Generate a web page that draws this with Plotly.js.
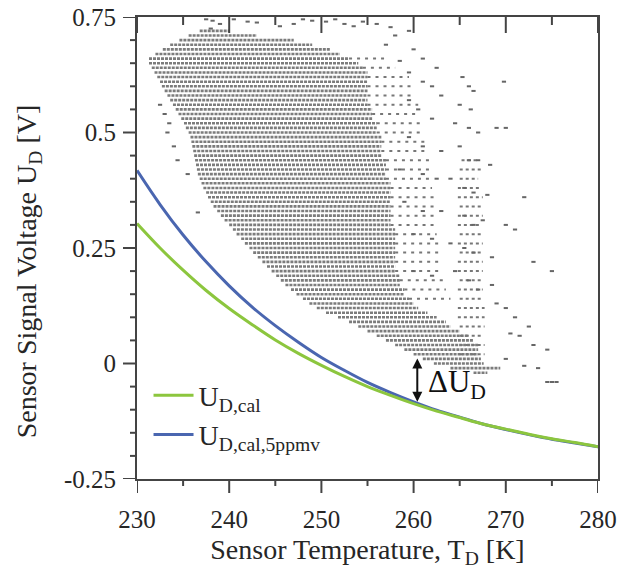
<!DOCTYPE html>
<html><head><meta charset="utf-8">
<script src="https://cdn.plot.ly/plotly-3.0.1.min.js"></script>
<style>body{margin:0;background:#fff}#chart{width:619px;height:569px}</style>
</head><body><div id="chart"></div>
<script>
// calibration curves
const curveT = [230,232.5,235,237.5,240,242.5,245,247.5,250,252.5,255,257.5,260,262.5,265,267.5,270,272.5,275,277.5,280];
const udCal5 = [0.418,0.344,0.278,0.220,0.168,0.122,0.082,0.046,0.013,-0.015,-0.041,-0.063,-0.083,-0.101,-0.116,-0.131,-0.143,-0.154,-0.164,-0.172,-0.180];
const udCal  = [0.303,0.250,0.202,0.158,0.119,0.084,0.051,0.022,-0.004,-0.028,-0.050,-0.069,-0.087,-0.103,-0.117,-0.131,-0.142,-0.153,-0.163,-0.171,-0.180];

// dense measurement rows (quantised voltage levels): level, lowest T, highest T
const rowY = [0.72,0.71,0.70,0.69,0.68,0.67,0.66,0.65,0.64,0.63,0.62,0.61,0.60,0.59,0.58,0.57,0.56,0.55,0.54,0.53,0.52,0.51,0.50,0.49,0.48,0.47,0.46,0.45,0.44,0.43,0.42,0.41,0.40,0.39,0.38,0.37,0.36,0.35,0.34,0.33,0.32,0.31,0.30,0.29,0.28,0.27,0.26,0.25,0.24,0.23,0.22,0.21,0.20,0.19,0.18,0.17,0.16,0.15,0.14,0.13,0.12,0.11,0.10,0.09,0.08,0.07,0.06,0.05,0.04,0.03,0.02,0.01,0.00,-0.01,-0.02];
const rowT0 = [236.8,235.6,234.6,233.6,232.8,232.0,231.3,231.3,231.6,231.9,232.2,232.5,232.7,233.0,233.3,233.6,233.9,234.2,234.5,234.8,235.1,235.3,235.6,235.8,235.9,236.0,236.1,236.2,236.3,236.4,236.5,236.6,236.8,237.0,237.2,237.5,237.7,238.0,238.3,238.7,239.1,239.5,240.0,240.4,240.8,241.3,241.7,242.2,242.6,243.1,243.6,244.1,244.6,245.1,245.6,246.1,246.7,247.3,248.0,248.7,249.5,250.5,251.8,253.0,254.0,255.0,256.0,257.0,258.0,259.0,260.0,261.0,262.2,264.0,266.5];
const rowT1 = [240,243,247,249,251,252,253,254,254.5,255,255,255,255,255,255,255,255,255.5,255.5,255.5,256,256,256,256.5,256.5,256.5,256.5,256.5,257,257,257,257,257,257.5,257.5,257.5,257.5,257.5,257.5,257.5,257.5,257.5,257.5,258,258,258,258,258,258,258,258,258,258,258.5,258.5,258.5,259,259,259.5,260,260.5,261.5,262.5,263.5,264,265,266,266.5,267,267,267,267.3,267.6,269.4,268];

// lighter band right of the dense core
const bandY  = [0.66,0.64,0.62,0.60,0.58,0.56,0.54,0.52,0.50,0.48,0.46,0.44,0.42,0.40,0.38,0.36,0.34,0.32,0.30,0.28,0.26,0.24,0.22,0.20,0.18,0.16,0.14];
const bandT0 = [253,254.5,255,255,255,255,255.5,256,256,256.5,256.5,257,257,257,257.5,257.5,257.5,257.5,257.5,258,258,258,258,258,258.5,259,259.5];
const bandT1 = [257,258,259.5,260,260,260.5,260.5,261,261,261.5,261.5,262,262,262,262,262.5,262.5,262.5,262.5,262.5,263,263,263,263,263.5,263.5,264];

// isolated streak near 266 K
const colY  = [0.44,0.42,0.40,0.38,0.36,0.34,0.32,0.30,0.28,0.26,0.24,0.22,0.20,0.18,0.16,0.14,0.12,0.10,0.08,0.06,0.04,0.02];
const colT0 = [265.2,265,265,264.8,264.8,265,264.8,264.8,265,264.8,265,264.8,264.8,265,264.8,265,264.8,264.8,265,265,265,265];
const colT1 = [267,267.3,267,267.3,267.5,267.3,267.5,267.3,267.5,267.5,267.3,267.5,267.5,267.3,267.5,267.5,267.7,267.7,267.7,267.5,267.7,267.7];

// scattered single readings
const sparseT = [237.5,238.2,239,238,240.5,242,243,245.5,247,248,249,250.5,251.5,252.5,253.5,254.5,256,257.5,258,259.5,257,260,261,262.5,258.5,259.5,261,262,265.3,266,266.5,269.8,263,265,266.2,259.5,260.5,262,264.5,266,267,269,270,259.5,261,263,265,266,267,268.3,258.5,261,262.5,264,265.5,266.5,268,272,259,261,263,265.5,266.5,267.5,270,271,260,262,264,265.5,266.5,268.5,273,275,260,262,264.5,266,267,268.5,269,270,271,272.5,271.5,273,274.5,270,272,273.5,270.5,274.5,275,275.5,233.3,234.4,234,233.5,235.5,236.6,232.5,233];
const sparseU = [0.745,0.742,0.735,0.725,0.745,0.74,0.738,0.73,0.735,0.745,0.742,0.74,0.745,0.735,0.73,0.74,0.735,0.728,0.71,0.72,0.69,0.68,0.66,0.64,0.655,0.63,0.61,0.60,0.62,0.60,0.59,0.61,0.58,0.56,0.55,0.57,0.55,0.53,0.52,0.51,0.50,0.51,0.51,0.49,0.47,0.46,0.47,0.44,0.44,0.43,0.42,0.41,0.40,0.40,0.38,0.37,0.365,0.36,0.35,0.33,0.33,0.32,0.30,0.31,0.30,0.29,0.28,0.27,0.26,0.25,0.24,0.23,0.22,0.20,0.20,0.19,0.20,0.18,0.16,0.17,0.13,0.12,0.10,0.08,0.06,0.04,0.03,0.01,-0.005,-0.01,0.065,-0.04,-0.04,-0.04,0.50,0.44,0.47,0.52,0.41,0.327,0.56,0.54];

// axis ticks
const xMajor = [230, 240, 250, 260, 270, 280];
const xMinor = [235, 245, 255, 265, 275];
const yTickVals = [-0.25, 0, 0.25, 0.5, 0.75];
const yTickText = ['-0.25', '0', '0.25', '0.5', '0.75'];
const yMinor = [-0.2, -0.15, -0.1, -0.05, 0.05, 0.1, 0.15, 0.2, 0.3, 0.35, 0.4, 0.45, 0.55, 0.6, 0.65, 0.7];

function segs(ys, t0, t1) {
  const x = [], y = [];
  for (let i = 0; i < ys.length; i++) { x.push(t0[i], t1[i], null); y.push(ys[i], ys[i], null); }
  return {x, y};
}
const dense = segs(rowY, rowT0, rowT1);
const band = segs(bandY, bandT0, bandT1);
const col = segs(colY, colT0, colT1);

const serif = 'Liberation Serif, Times New Roman, serif';
const axCol = '#444';
const txtCol = '#262626';
const noTick = 'rgba(0,0,0,0)';

// plot area size in px (for converting tick lengths to paper units)
const W = 619, H = 569, M = {l: 137, r: 21, t: 17, b: 90};
const pw = W - M.l - M.r, ph = H - M.t - M.b;
const tickLine = {color: axCol, width: 2};
const shapes = [];
xMajor.forEach(v => {
  shapes.push({type: 'line', xref: 'x', yref: 'paper', x0: v, x1: v, y0: 0, y1: -14 / ph, line: tickLine});
  shapes.push({type: 'line', xref: 'x', yref: 'paper', x0: v, x1: v, y0: 1, y1: 1 - 16 / ph, line: tickLine});
});
xMinor.forEach(v => {
  shapes.push({type: 'line', xref: 'x', yref: 'paper', x0: v, x1: v, y0: 0, y1: -7 / ph, line: tickLine});
  shapes.push({type: 'line', xref: 'x', yref: 'paper', x0: v, x1: v, y0: 1, y1: 1 - 8 / ph, line: tickLine});
});
yTickVals.forEach(v => shapes.push({type: 'line', xref: 'paper', yref: 'y', x0: 0, x1: -14 / pw, y0: v, y1: v, line: tickLine}));
yMinor.forEach(v => shapes.push({type: 'line', xref: 'paper', yref: 'y', x0: 0, x1: -7 / pw, y0: v, y1: v, line: tickLine}));

const traces = [
  {x: dense.x, y: dense.y, mode: 'lines', line: {color: '#7c7c7c', width: 2.6, dash: '3px,1px'}, showlegend: false, hoverinfo: 'skip'},
  {x: band.x, y: band.y, mode: 'lines', line: {color: '#777', width: 2, dash: '3px,5px'}, showlegend: false, hoverinfo: 'skip'},
  {x: col.x, y: col.y, mode: 'lines', line: {color: '#777', width: 2, dash: '3px,3px'}, showlegend: false, hoverinfo: 'skip'},
  {x: sparseT, y: sparseU, mode: 'markers', marker: {symbol: 'line-ew', size: 3, line: {color: '#666', width: 2}}, showlegend: false, hoverinfo: 'skip'},
  {x: curveT, y: udCal5, mode: 'lines', name: 'U<sub>D,cal,5ppmv</sub>', line: {color: '#4a66b0', width: 3, shape: 'spline'}},
  {x: curveT, y: udCal, mode: 'lines', name: 'U<sub>D,cal</sub>', line: {color: '#8cc63e', width: 3, shape: 'spline'}}
];

const layout = {
  width: W, height: H,
  margin: M,
  paper_bgcolor: '#fff', plot_bgcolor: '#fff',
  font: {family: serif, color: txtCol, size: 25},
  showlegend: true,
  legend: {x: 0.025, y: 0.235, xanchor: 'left', yanchor: 'top', traceorder: 'reversed', bgcolor: 'rgba(0,0,0,0)', font: {family: serif, size: 28, color: txtCol}, itemwidth: 40, tracegroupgap: 0},
  xaxis: {
    range: [230, 280], showgrid: false, zeroline: false, fixedrange: true,
    tickmode: 'array', tickvals: xMajor,
    showline: true, linecolor: axCol, linewidth: 2, mirror: true,
    ticks: 'outside', ticklen: 14, tickwidth: 2, tickcolor: noTick,
    tickfont: {family: serif, size: 25, color: txtCol}, ticklabelstandoff: 3,
    title: {text: 'Sensor Temperature, T<sub>D</sub> [K]', font: {family: serif, size: 28, color: txtCol}, standoff: 8}
  },
  yaxis: {
    range: [-0.25, 0.75], showgrid: false, zeroline: false, fixedrange: true,
    tickmode: 'array', tickvals: yTickVals, ticktext: yTickText,
    showline: true, linecolor: axCol, linewidth: 2, mirror: true,
    ticks: 'outside', ticklen: 14, tickwidth: 2, tickcolor: noTick,
    tickfont: {family: serif, size: 25, color: txtCol}
  },
  shapes: shapes,
  annotations: [
    {x: 260.4, y: -0.083, ax: 260.4, ay: 0.014, xref: 'x', yref: 'y', axref: 'x', ayref: 'y', text: '', showarrow: true, arrowhead: 2, startarrowhead: 2, arrowside: 'end+start', arrowwidth: 2, arrowsize: 1, arrowcolor: '#111'},
    {x: 261.3, y: -0.045, xref: 'x', yref: 'y', xanchor: 'left', yanchor: 'middle', text: 'ΔU<sub>D</sub>', showarrow: false, font: {family: serif, size: 31, color: '#111'}},
    {x: -0.236, y: 0.45, xref: 'paper', yref: 'paper', xanchor: 'center', yanchor: 'middle', textangle: -90, showarrow: false,
     text: 'Sensor Signal Voltage U<sub>D</sub> [V]', font: {family: serif, size: 28, color: txtCol}}
  ]
};

Plotly.newPlot('chart', traces, layout, {displayModeBar: false, staticPlot: true});
</script>
</body></html>
